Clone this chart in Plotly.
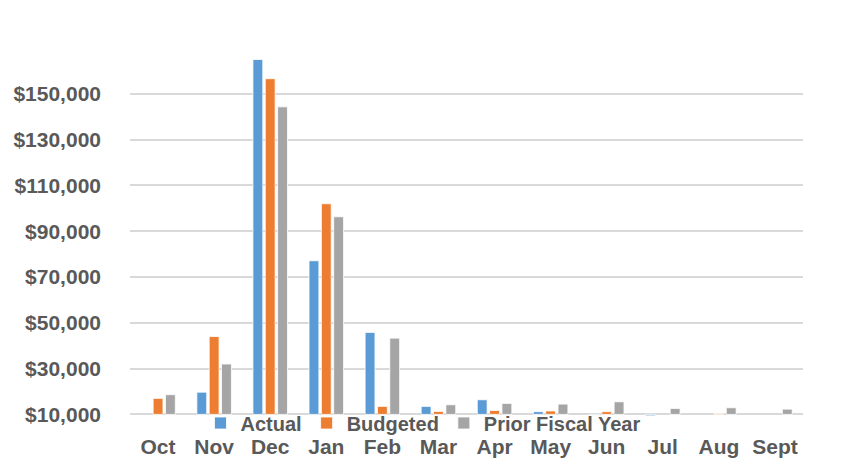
import plotly.graph_objects as go

months = ["Oct", "Nov", "Dec", "Jan", "Feb", "Mar", "Apr", "May", "Jun", "Jul", "Aug", "Sept"]
actual = [None, 19700, 165000, 77100, 45800, 13500, 16400, 11200, 9700, 9400, None, None]
budgeted = [17000, 44000, 156600, 102000, 13500, 11300, 11700, 11500, 11200, None, 10400, None]
prior_fy = [18600, 32000, 144300, 96300, 43300, 14200, 14800, 14500, 15500, 12600, 12900, 12300]
y_ticks = [10000, 30000, 50000, 70000, 90000, 110000, 130000, 150000]
y_tick_text = ["$10,000", "$30,000", "$50,000", "$70,000", "$90,000", "$110,000", "$130,000", "$150,000"]

BASE = 10000
FONT = "Liberation Sans"
GRAY = "#595959"

def rel(vals):
    return [None if v is None else v - BASE for v in vals]

fig = go.Figure()
for name, vals, color in [("Actual", actual, "#5B9BD5"),
                          ("Budgeted", budgeted, "#ED7D31"),
                          ("Prior Fiscal Year", prior_fy, "#A5A5A5")]:
    fig.add_trace(go.Bar(
        x=months, y=rel(vals), base=BASE, name=name,
        marker=dict(color=color, line=dict(color="white", width=0.8)),
        customdata=vals, hovertemplate="%{customdata:$,}<extra>" + name + "</extra>",
    ))

fig.update_layout(
    width=846, height=458,
    margin=dict(l=130, r=43, t=48, b=42, autoexpand=False),
    paper_bgcolor="white", plot_bgcolor="white",
    barmode="group", bargap=0.34, bargroupgap=0.2,
    font=dict(family=FONT, color=GRAY, size=20, weight="bold"),
    legend=dict(
        orientation="h", xref="container", yref="container",
        x=0.5, xanchor="center", y=1 - 423 / 458, yanchor="middle",
        font=dict(family=FONT, size=20, color=GRAY, weight="bold"),
        bgcolor="rgba(0,0,0,0)", itemwidth=30, tracegroupgap=0,
    ),
    xaxis=dict(
        showgrid=False, showline=False, zeroline=False,
        tickfont=dict(family=FONT, size=21, color=GRAY, weight="bold"),
        ticks="", ticklabelstandoff=16,
    ),
    yaxis=dict(
        range=[9300, 170000], tickvals=y_ticks, ticktext=y_tick_text,
        showgrid=True, gridcolor="#D9D9D9", gridwidth=1.5,
        zeroline=False, showline=False, ticks="",
        tickfont=dict(family=FONT, size=21, color=GRAY, weight="bold"),
        ticklabelstandoff=28,
    ),
)

fig.write_html("out.html", config={"displayModeBar": False},
               post_script="document.body.style.margin='0';")
